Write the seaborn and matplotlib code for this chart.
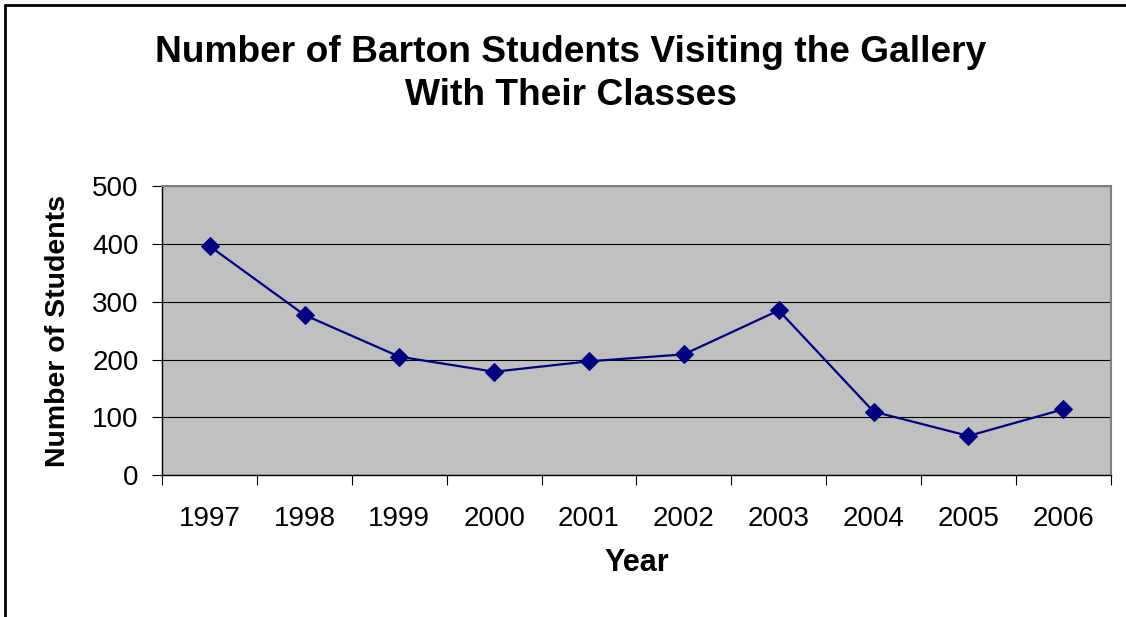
import matplotlib
matplotlib.use('Agg')
import matplotlib.pyplot as plt
import seaborn as sns
import pandas as pd
from matplotlib.lines import Line2D

years = ['1997', '1998', '1999', '2000', '2001', '2002', '2003', '2004', '2005', '2006']
students = [396, 277, 205, 179, 197, 209, 285, 110, 68, 114]

df = pd.DataFrame({'Year': years, 'Students': students})

sns.set_style('white')
plt.rcParams['font.family'] = ['Liberation Sans', 'DejaVu Sans']
plt.rcParams['text.color'] = 'black'
plt.rcParams['axes.labelcolor'] = 'black'
plt.rcParams['xtick.color'] = 'black'
plt.rcParams['ytick.color'] = 'black'

fig = plt.figure(figsize=(11.26, 6.17), dpi=100)
ax = fig.add_axes([0.1441, 0.2297, 0.8423, 0.4688])
ax.set_facecolor('#C0C0C0')

sns.lineplot(data=df, x='Year', y='Students', ax=ax, color='#000080',
             marker='D', markersize=9, markeredgecolor='#000080',
             linewidth=1.6, sort=False)

ax.set_ylim(0, 500)
ax.set_xlim(-0.5, len(years) - 0.5)
ax.set_yticks(range(0, 501, 100))
ax.yaxis.grid(True, color='black', linewidth=0.8)
ax.set_axisbelow(True)

# tick marks between categories, labels in the middle
ax.set_xticks([i - 0.5 for i in range(len(years) + 1)])
ax.set_xticklabels([])
ax.set_xticks(range(len(years)), minor=True)
ax.set_xticklabels(years, minor=True)
ax.tick_params(axis='x', which='major', bottom=True, direction='out', length=7, width=0.8, color='black')
ax.tick_params(axis='x', which='minor', bottom=True, length=0, pad=22, labelsize=20)
ax.tick_params(axis='y', left=True, direction='out', length=7, width=0.8, color='black', pad=10, labelsize=20)

for s in ['top', 'right']:
    ax.spines[s].set_color('#808080')
    ax.spines[s].set_linewidth(1.5)
for s in ['left', 'bottom']:
    ax.spines[s].set_color('black')
    ax.spines[s].set_linewidth(1.0)

ax.set_xlabel('Year', fontsize=22, fontweight='bold', labelpad=12)
ax.set_ylabel('Number of Students', fontsize=20.5, fontweight='bold', labelpad=15)

fig.text(0.507, 0.880, 'Number of Barton Students Visiting the Gallery\nWith Their Classes',
         ha='center', va='center', fontsize=26.7, fontweight='bold', linespacing=1.3)

# outer chart border (only left and top visible)
fig.add_artist(Line2D([5 / 1126, 5 / 1126], [0, 1 - 5 / 617], transform=fig.transFigure, color='black', lw=2))
fig.add_artist(Line2D([5 / 1126, 1], [1 - 5 / 617, 1 - 5 / 617], transform=fig.transFigure, color='black', lw=2))

fig.savefig('out.png', dpi=100)
